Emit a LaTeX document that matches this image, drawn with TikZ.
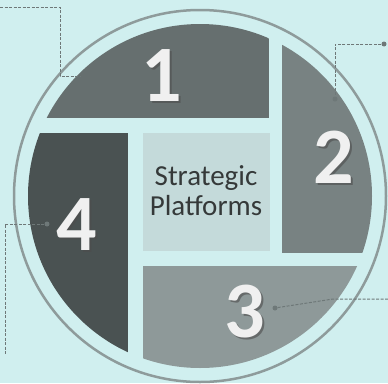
\documentclass[tikz,border=0pt]{standalone}
\usepackage{fontspec}
\setmainfont{Carlito}
\definecolor{paper}{HTML}{D0EFEF}
\definecolor{ring}{HTML}{8E9B9B}
\definecolor{segA}{HTML}{666F6F}
\definecolor{segB}{HTML}{788282}
\definecolor{segC}{HTML}{8E9999}
\definecolor{segD}{HTML}{4A5252}
\definecolor{core}{HTML}{C4DADA}
\definecolor{ink}{HTML}{353939}
\definecolor{leadc}{HTML}{6E7878}
\tikzset{
  num/.style={text=white!94!black, font=\fontsize{80}{80}\selectfont\bfseries, inner sep=0pt},
  numshade/.style={text=black!70, opacity=0.6, font=\fontsize{80}{80}\selectfont\bfseries, inner sep=0pt},
  lead/.style={leadc, line width=1pt, dash pattern=on 3pt off 1.5pt},
  tip/.style={circle, fill=leadc, inner sep=0pt, minimum size=5pt}
}
\begin{document}
\begin{tikzpicture}[x=1pt,y=-1pt]
	% Paper
	\fill [paper] (0,0) rectangle (388,383);
	\useasboundingbox (0,0) rectangle (388,383);
	% Ring
	\draw [ring, line width=2.5pt] (200,196) circle [radius=186];
	% Segments
	\begin{scope}
	\clip (200,196) circle [radius=172];
	\fill [segA] (0,0) rectangle (269,118);
	\fill [segB] (282,0) rectangle (388,253);
	\fill [segC] (143,266) rectangle (388,383);
	\fill [segD] (0,133) rectangle (128,383);
	\end{scope}
	\fill [core] (143,133) rectangle (270,251);
	% Title
	\node [text=ink, align=center, font=\fontsize{29}{30}\selectfont] (title) at (206,191) {Strategic\\Platforms};
	% Numbers
	\node [numshade] (s1) at (164,78) {1};
	\node [num] (n1) at (162,76) {1};
	\node [numshade] (s2) at (336,159) {2};
	\node [num] (n2) at (334,157) {2};
	\node [numshade] (s3) at (247,314) {3};
	\node [num] (n3) at (245,312) {3};
	\node [numshade] (s4) at (79,227) {4};
	\node [num] (n4) at (77,225) {4};
	% Leaders
	\coordinate (a0) at (0,7);
	\coordinate (a1) at (60,7);
	\coordinate (a2) at (60,76);
	\coordinate (a3) at (80,76);
	\draw [lead] (a0) -- (a1) -- (a2) -- (a3);
	\node [tip] (b0) at (384,44) {};
	\coordinate (b1) at (335,44);
	\node [tip] (b2) at (335,99) {};
	\draw [lead] (b0) -- (b1) -- (b2);
	\node [tip] (c0) at (275,308) {};
	\coordinate (c1) at (333,299);
	\coordinate (c2) at (388,299);
	\draw [lead] (c0) -- (c1) -- (c2);
	\node [tip] (d0) at (47,224) {};
	\coordinate (d1) at (5,224);
	\coordinate (d2) at (5,354);
	\draw [lead] (d0) -- (d1) -- (d2);
\end{tikzpicture}
\end{document}
